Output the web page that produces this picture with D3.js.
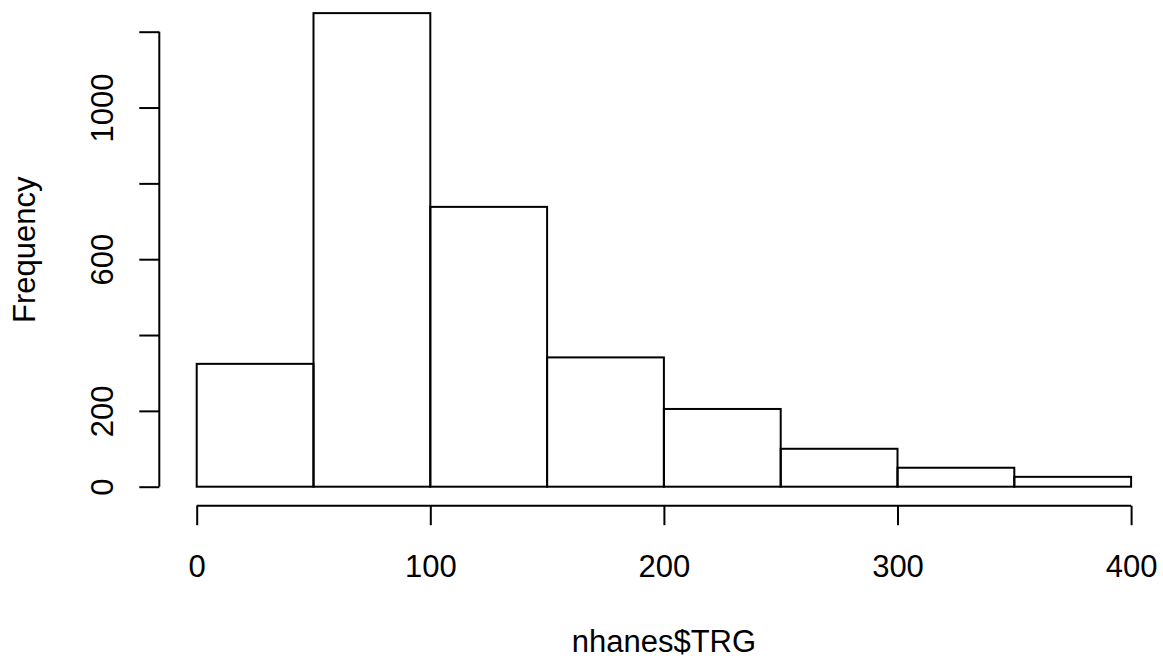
<!DOCTYPE html>
<html>
<head>
<meta charset="utf-8">
<script src="https://cdn.jsdelivr.net/npm/d3@7"></script>
<style>
  html, body { margin: 0; padding: 0; background: #fff; }
  svg { display: block; }
  text { font-family: "Liberation Sans", Arial, Helvetica, sans-serif; fill: #000; }
</style>
</head>
<body>
<svg id="chart" width="1163" height="656"></svg>
<script>
// Data
const binStarts = [0, 50, 100, 150, 200, 250, 300, 350];
const binWidth = 50;
const counts = [324, 1249, 738, 341, 205, 100, 50, 26];
const xTickValues = [0, 100, 200, 300, 400];
const yTickValues = [0, 200, 400, 600, 800, 1000, 1200];
const yTickLabels = [0, 200, 600, 1000];
const xLabel = "nhanes$TRG";
const yLabel = "Frequency";

const W = 1163, H = 656;
const svg = d3.select("#chart");

const x = d3.scaleLinear().domain([0, 400]).range([196.7, 1131.1]);
const y = d3.scaleLinear().domain([0, 1200]).range([486.7, 31.7]);

const fontSize = 31;
const lw = 2;

// Bars
svg.append("g")
  .selectAll("rect")
  .data(binStarts.map((s, i) => ({ s, e: s + binWidth, c: counts[i] })))
  .join("rect")
  .attr("x", d => x(d.s))
  .attr("y", d => y(d.c))
  .attr("width", d => x(d.e) - x(d.s))
  .attr("height", d => y(0) - y(d.c))
  .attr("fill", "none")
  .attr("stroke", "#000")
  .attr("stroke-width", lw);

// X axis
const xAxisY = 505.7;
const xAxis = d3.axisBottom(x).tickValues(xTickValues).tickSize(19.5).tickPadding(0).tickFormat(d3.format("d"));
const gx = svg.append("g").attr("transform", `translate(0,${xAxisY})`).call(xAxis);
gx.select(".domain").attr("d", `M${x(0)},0H${x(400)}`).attr("stroke-width", lw).attr("stroke", "#000");
gx.selectAll(".tick line").attr("stroke-width", lw).attr("stroke", "#000");
gx.selectAll(".tick text")
  .attr("y", 576.7 - xAxisY)
  .attr("dy", null)
  .attr("font-size", fontSize)
  .attr("fill", "#000");
gx.attr("font-family", null).attr("font-size", null);

// Y axis
const yAxisX = 159.3;
const yAxis = d3.axisLeft(y).tickValues(yTickValues).tickSize(20).tickPadding(0)
  .tickFormat(d => yTickLabels.includes(d) ? String(d) : "");
const gy = svg.append("g").attr("transform", `translate(${yAxisX},0)`).call(yAxis);
gy.select(".domain").attr("d", `M0,${y(0)}V${y(1200)}`).attr("stroke-width", lw).attr("stroke", "#000");
gy.selectAll(".tick line").attr("stroke-width", lw).attr("stroke", "#000");
gy.selectAll(".tick text")
  .attr("x", null).attr("dy", null)
  .attr("text-anchor", "middle")
  .attr("transform", `translate(${113 - yAxisX},0) rotate(-90)`)
  .attr("font-size", fontSize)
  .attr("fill", "#000");
gy.attr("font-family", null).attr("font-size", null);

// Axis titles
svg.append("text")
  .attr("x", x(200))
  .attr("y", 652.3)
  .attr("text-anchor", "middle")
  .attr("font-size", fontSize)
  .text(xLabel);

svg.append("text")
  .attr("transform", `translate(35,${y(625)}) rotate(-90)`)
  .attr("text-anchor", "middle")
  .attr("font-size", fontSize)
  .text(yLabel);
</script>
</body>
</html>
